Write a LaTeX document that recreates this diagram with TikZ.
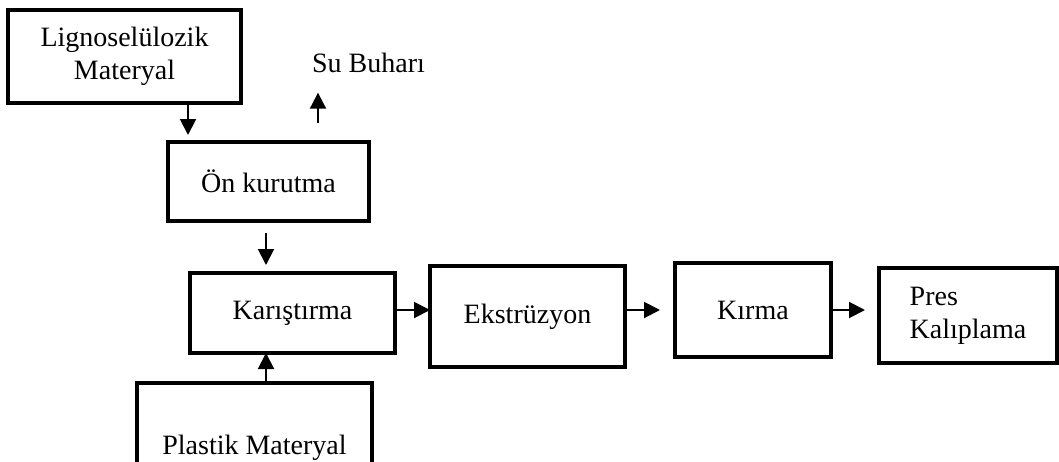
\documentclass[tikz,border=0pt]{standalone}
\usepackage{fontspec}
\setmainfont{Liberation Serif}
\usepackage{tikz}
\tikzstyle{block} = [rectangle, draw, line width=2pt, inner sep=2pt, outer sep=0pt,
    align=center, font=\fontsize{14}{16.5}\selectfont]
\tikzstyle{arr} = [-{Triangle[length=8pt,width=8pt]}, line width=1pt]
\usetikzlibrary{arrows.meta}
\usetikzlibrary{positioning}

\begin{document}
\begin{tikzpicture}[x=0.5pt,y=-0.5pt]
    \useasboundingbox (0,0) rectangle (1059,461);

    \node[block, minimum width=116.5pt, minimum height=46.5pt] (ligno) at (124.5,56.5) {Lignoselülozik\\Materyal};
    \node[block, minimum width=100.5pt, minimum height=39.5pt] (oen) at (268.5,181.5) {Ön kurutma};
    \node[inner sep=0pt, anchor=base, font=\fontsize{14}{16.5}\selectfont] (su) at (368.5,72) {Su Buharı};

    \node[block, minimum width=102.5pt, minimum height=40pt] (kar) at (292.5,313) {Karıştırma};
    \node[block, minimum width=117.5pt, minimum height=65pt] (plast) at (254.5,448) {Plastik Materyal};

    \node[block, minimum width=97.5pt, minimum height=50.5pt, right=17.5pt of kar, yshift=-1.75pt] (ekstr) {Ekstrüzyon};
    \node[block, minimum width=78pt, minimum height=47pt, right=25pt of ekstr, yshift=3.25pt] (kirma) {Kırma};
    \node[block, minimum width=89pt, minimum height=47.5pt, align=left, right=24pt of kirma, yshift=-2.75pt] (pres) {Pres\\Kalıplama};

    \draw[arr, shorten >=3.5pt] ([xshift=31.75pt]ligno.south) -- ([xshift=31.75pt]ligno.south |- oen.north);
    \draw[arr, shorten <=9.5pt, shorten >=10pt] ([xshift=24.75pt]oen.north) -- ([xshift=24.75pt]oen.north |- su.south);
    \draw[arr, shorten <=6pt, shorten >=4pt] ([xshift=-1.25pt]oen.south) -- ([xshift=-1.25pt]oen.south |- kar.north);
    \draw[arr] ([xshift=5.75pt]plast.north) -- ([xshift=5.75pt]plast.north |- kar.south);

    \draw[arr] ([yshift=1.5pt]kar.east) -- ([yshift=1.5pt]kar.east -| ekstr.west);
    \draw[arr, shorten >=7.5pt] (ekstr.east |- kirma.west) -- (kirma.west);
    \draw[arr, shorten >=7pt] (kirma.east) -- (kirma.east -| pres.west);
\end{tikzpicture}
\end{document}
